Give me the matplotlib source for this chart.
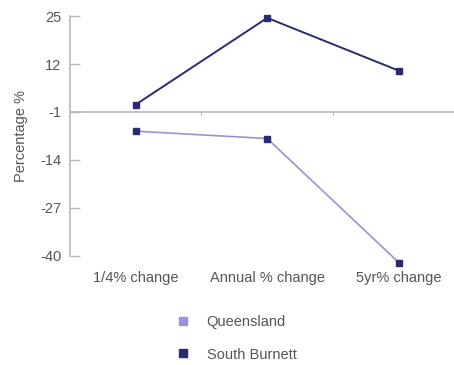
import numpy as np
import matplotlib
matplotlib.use("Agg")
import matplotlib.pyplot as plt
from matplotlib.lines import Line2D

plt.rcParams["font.family"] = ["Liberation Sans", "DejaVu Sans"]

categories = ["1/4% change", "Annual % change", "5yr% change"]
queensland = [-6.2, -8.2, -41.8]
south_burnett = [1.0, 24.5, 10.2]
yticks = [25, 12, -1, -14, -27, -40]

navy = "#2b2b72"
lilac = "#9a92d4"
grey = "#b8b8b8"
text_col = "#555555"
fs = 10.5

fig = plt.figure(figsize=(4.54, 3.65), dpi=100)
ax = fig.add_axes([0.154, 0.299, 0.846, 0.657])

x = np.arange(len(categories)) + 0.5
ax.plot(x, queensland, color=lilac, lw=1.2, marker="s", ms=5,
        mfc=navy, mec=navy, zorder=3, clip_on=False)
ax.plot(x, south_burnett, color=navy, lw=1.4, marker="s", ms=5,
        mfc=navy, mec=navy, zorder=3, clip_on=False)

# category axis drawn through -1, with small dividers between groups
ax.axhline(-1, color=grey, lw=1.2, zorder=1)
ax.vlines([1, 2], -1, -1.9, color=grey, lw=0.8)

ax.set_xlim(0, 2.92)
ax.set_ylim(-40, 25)
ax.set_yticks(yticks)
ax.set_yticklabels([str(v) for v in yticks])
ax.set_xticks(x)
ax.set_xticklabels(categories)

for s in ["top", "right", "bottom"]:
    ax.spines[s].set_visible(False)
ax.spines["left"].set_color(grey)
ax.spines["left"].set_linewidth(1.2)
ax.tick_params(axis="y", direction="in", length=7, color=grey, width=1,
               labelsize=fs, labelcolor=text_col, pad=6)
ax.tick_params(axis="x", length=0, pad=11, labelsize=fs, labelcolor=text_col)
ax.set_ylabel("Percentage %", fontsize=fs, color=text_col, labelpad=9)

handles = [
    Line2D([], [], ls="none", marker="s", ms=5.5, mfc=lilac, mec=lilac),
    Line2D([], [], ls="none", marker="s", ms=5.5, mfc=navy, mec=navy),
]
leg = fig.legend(handles, ["Queensland", "South Burnett"], loc="upper left",
                 bbox_to_anchor=(0.359, 0.172), frameon=False, fontsize=fs,
                 handlelength=1, handletextpad=1.1, labelspacing=1.25)
for t in leg.get_texts():
    t.set_color(text_col)

fig.savefig("out.png", dpi=100)
